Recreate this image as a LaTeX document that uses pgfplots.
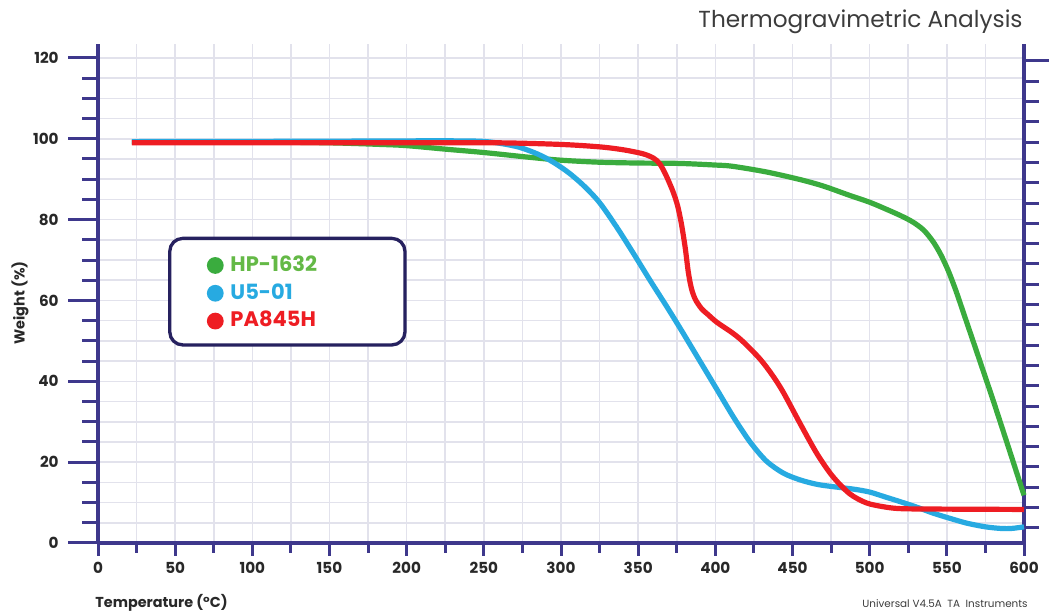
\documentclass[border=0pt]{standalone}
\usepackage{fontspec}
\setmainfont{Poppins}
\usepackage{pgfplots}
\pgfplotsset{compat=1.18}

\definecolor{axisc}{RGB}{62,56,140}
\definecolor{gridc}{RGB}{226,226,236}
\definecolor{boxc}{RGB}{38,33,95}
\definecolor{hpgreen}{RGB}{58,172,62}
\definecolor{ublue}{RGB}{39,170,225}
\definecolor{pared}{RGB}{238,29,35}
\definecolor{hptext}{RGB}{100,185,70}
\definecolor{tickc}{RGB}{40,40,40}
\definecolor{titlec}{RGB}{60,60,60}

\begin{document}
\begin{tikzpicture}
\useasboundingbox (0,0) rectangle (524.5bp,306bp);
\begin{axis}[
    at={(49bp,34.5bp)}, anchor=south west,
    scale only axis, width=463bp, height=249.5bp,
    xmin=0, xmax=600, ymin=0, ymax=123.45,
    axis line style={draw=none},
    tick style={draw=none},
    major tick length=0pt, minor tick length=0pt,
    xtick={0,50,...,600}, ytick={0,20,...,120},
    minor xtick={25,75,...,575},
    minor ytick={5,10,15,25,30,35,45,50,55,65,70,75,85,90,95,105,110,115},
    grid=both,
    major grid style={draw=gridc, line width=0.8bp},
    minor grid style={draw=gridc, line width=0.8bp},
    /pgf/number format/assume math mode=true,
    ticklabel style={font=\bfseries\fontsize{7.6bp}{9bp}\selectfont, text=tickc},
    xticklabel style={anchor=base, yshift=-15.5bp, inner sep=0pt},
    yticklabel style={anchor=east, xshift=-19.5bp, inner sep=0pt},
    clip=false,
    legend style={at={(axis cs:70.3,72)}, anchor=north west, draw=none, fill=none,
        inner sep=0pt, row sep=0.8bp,
        font=\bfseries\fontsize{10.5bp}{12bp}\selectfont,
        nodes={inner sep=2bp, text height=7.5bp, text depth=1.6bp}},
    legend cell align=left,
    legend image code/.code={\path[draw=none, fill=none] (0bp,-0.1bp) rectangle (9.8bp,0.1bp);
        \fill[draw=none] (4.2bp,0bp) circle (4.2bp);},
]
% legend frame
\draw[boxc, line width=1.65bp, fill=white, rounded corners=6.5bp] (axis cs:46.5,49) rectangle (axis cs:198.9,75.36);

% axis lines and ticks
\draw[axisc, line width=1.6bp] (axis cs:0,0) -- (rel axis cs:0,1);
\draw[axisc, line width=1.6bp] (axis cs:600,0) -- (rel axis cs:1,1);
\draw[axisc, line width=1.6bp] (axis cs:0,0) -- (axis cs:600,0);
\pgfplotsinvokeforeach{0,50,...,600}{\draw[axisc, line width=1.5bp] (axis cs:#1,0) -- ++(0,-6.5bp);}
\pgfplotsinvokeforeach{25,75,...,575}{\draw[axisc, line width=1.5bp] (axis cs:#1,0) -- ++(0,-5bp);}
\pgfplotsinvokeforeach{5,10,...,115}{\draw[axisc, line width=1.5bp] (axis cs:0,#1) -- ++(-8bp,0);}
\pgfplotsinvokeforeach{0,20,...,120}{\draw[axisc, line width=1.5bp] (axis cs:0,#1) -- ++(-15bp,0);}
\draw[axisc, line width=1.5bp] (axis cs:600,119.25) -- ++(13bp,0);
\pgfplotsinvokeforeach{114.23,109.21,104.18,99.16,94.14,89.12,84.10,79.07,74.05,69.03,64.01,58.99,53.96,48.94,43.92,38.90,33.88,28.85,23.83,18.81,13.79,8.77,3.74}{\draw[axisc, line width=1.5bp] (axis cs:600,#1) -- ++(7.5bp,0);}

% HP-1632
\addplot[color=hpgreen, line width=2.6bp, smooth] coordinates {
(22,99.2) (100,99.2) (150,99.0) (183,98.6) (200,98.3) (226,97.4) (250,96.6)
(280,95.4) (300,94.7) (325,94.2) (350,94.0) (377,93.9) (400,93.5) (411,93.2)
(433,91.8) (455,89.9) (470,88.3) (487,86.0) (500,84.3) (510,82.7) (520,81.0)
(528,79.4) (535,77.4) (541,74.6) (546,71.4) (551,67.3) (556,62.3) (561,56.7)
(570,46.6) (580,35.3) (590,23.6) (600,11.8)
};
\addlegendentry{\textcolor{hptext}{HP-1632}}

% U5-01
\addplot[color=ublue, line width=2.6bp, smooth] coordinates {
(22,99.3) (100,99.35) (183,99.45) (220,99.5) (247,99.4) (260,98.9) (273,97.9)
(285,96.2) (295,94.2) (305,91.6) (315,88.3) (325,84.2) (336,78.2) (347,71.6)
(358,64.8) (369,58.2) (379,52) (390,45) (401,38) (412,31) (422.5,25)
(433,20.3) (444,17.3) (455,15.6) (466,14.5) (477,13.9) (490,13.3) (500,12.6)
(510,11.4) (520,10.2) (531,8.8) (541,7.4) (552,6.1) (563,4.9) (575,4.0)
(585,3.6) (592,3.6) (600,4.0)
};
\addlegendentry{\textcolor{ublue}{U5-01}}

% PA845H
\addplot[color=pared, line width=2.6bp, smooth] coordinates {
(22,99.0) (100,99.0) (200,99.0) (260,99.0) (300,98.6) (325,98.0) (340,97.3)
(353,96.3) (360,95.2) (364,93.8) (368,91) (372.5,87) (375.5,83.5) (378,79)
(380.5,73) (382.5,67) (384.5,63) (387,60.3) (391,58) (395,56.6) (401,54.6)
(411,52) (418,49.8) (429,45.5) (437,41.5) (444,37.3) (455,29.5) (466,22)
(476,16.5) (487,12.2) (498,9.9) (510,8.9) (520,8.5) (540,8.4) (600,8.3)
};
\addlegendentry{\textcolor{pared}{PA845H}}
\end{axis}

\node[anchor=base east, inner sep=0pt, text=titlec, font=\fontsize{11.6bp}{14bp}\selectfont] at (511.5bp,292bp) {Thermogravimetric Analysis};
\node[anchor=base west, inner sep=0pt, text=tickc, font=\bfseries\fontsize{7.2bp}{9bp}\selectfont] at (47.5bp,2.5bp) {Temperature (°C)};
\node[anchor=base east, inner sep=0pt, text=titlec, font=\fontsize{5.2bp}{6bp}\selectfont] at (514bp,2.5bp) {Universal V4.5A\ \ TA\ \ Instruments};
\node[rotate=90, inner sep=0pt, text=tickc, font=\bfseries\fontsize{7.2bp}{9bp}\selectfont] at (10bp,154.5bp) {Weight (\%)};
\end{tikzpicture}
\end{document}
